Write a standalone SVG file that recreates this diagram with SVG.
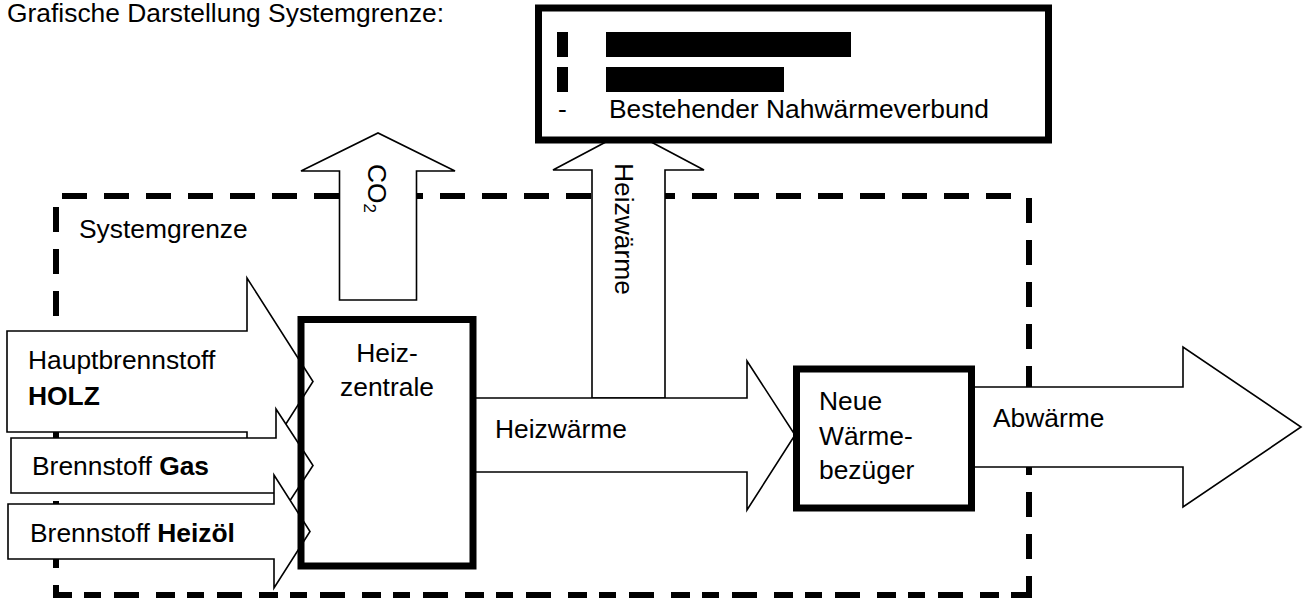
<svg xmlns="http://www.w3.org/2000/svg" width="1306" height="601" viewBox="0 0 1306 601">
<style>
text{font-family:"Liberation Sans",Arial,sans-serif;font-size:26.4px;fill:#000}
.b{font-weight:bold}
.arrow{fill:#fff;stroke:#000;stroke-width:1.6;stroke-linejoin:miter}
.box{stroke:#000;stroke-width:7}
.dash{fill:none;stroke:#000;stroke-width:6;stroke-dasharray:25 17}
</style>
<rect width="1306" height="601" fill="#fff"/>
<text x="7" y="22">Grafische Darstellung Systemgrenze:</text>
<g id="systemgrenze">
<line class="dash" x1="62" y1="196" x2="1026" y2="196"/>
<line class="dash" x1="1029" y1="198" x2="1029" y2="598"/>
<line class="dash" x1="56" y1="207" x2="56" y2="598"/>
<line class="dash" x1="53" y1="595" x2="1032" y2="595" style="stroke-dasharray:19 12 17 13 25 17"/>
<text x="79" y="238">Systemgrenze</text>
</g>
<g id="connectors">
<polygon class="arrow" points="339.5,300 339.5,171 301,171 378,133 455,171 416.5,171 416.5,300"/>
<polygon class="arrow" points="592,398 592,170 553,170 628.5,130 704,170 665,170 665,398"/>
<polygon class="arrow" points="473,398 747,398 747,361 795,435 747,510 747,472 473,472"/>
<polygon class="arrow" points="971,387 1183,387 1183,347 1301,427 1183,507 1183,467 971,467"/>
<polygon class="arrow" points="7,331 247,331 247,278 313,381.5 247,485 247,432 7,432"/>
<polygon class="arrow" points="11,438 276,438 276,409 313,465.5 276,522 276,493 11,493"/>
<polygon class="arrow" points="8,504 274,504 274,475 310,531.5 274,588 274,559 8,559"/>
<text transform="translate(368,164) rotate(90)">CO<tspan font-size="17" dy="4">2</tspan></text>
<text transform="translate(615,163) rotate(90)">Heizwärme</text>
<text x="495" y="438">Heizwärme</text>
<text x="993" y="427">Abwärme</text>
<text x="28" y="369">Hauptbrennstoff</text>
<text x="28" y="405" class="b">HOLZ</text>
<text x="32" y="475">Brennstoff <tspan class="b">Gas</tspan></text>
<text x="30" y="542">Brennstoff <tspan class="b">Heizöl</tspan></text>
</g>
<g id="nahwaermeverbund">
<rect class="box" x="538.5" y="8" width="510" height="132" fill="#fff"/>
<rect x="557" y="32" width="11" height="25" fill="#000"/>
<rect x="606" y="32" width="245" height="25" fill="#000"/>
<rect x="557" y="67" width="11" height="25" fill="#000"/>
<rect x="606" y="67" width="178" height="25" fill="#000"/>
<text x="558" y="118">-</text>
<text x="609" y="118">Bestehender Nahwärmeverbund</text>
</g>
<g id="heizzentrale">
<rect class="box" x="301" y="319.5" width="172" height="246.5" fill="none"/>
<text x="387" y="362" text-anchor="middle">Heiz-</text>
<text x="387" y="396" text-anchor="middle">zentrale</text>
</g>
<g id="waermebezueger">
<rect class="box" x="796.5" y="369" width="175" height="139" fill="none"/>
<text x="819" y="410">Neue</text>
<text x="819" y="445">Wärme-</text>
<text x="819" y="479">bezüger</text>
</g>
</svg>
